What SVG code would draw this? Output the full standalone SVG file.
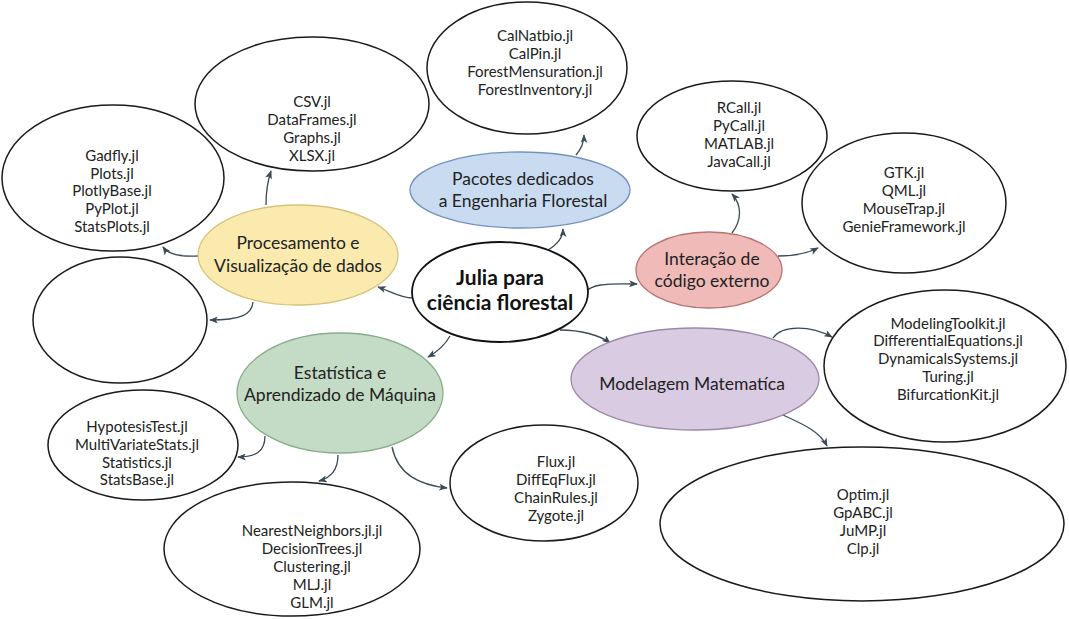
<svg xmlns="http://www.w3.org/2000/svg" width="1069" height="619" viewBox="0 0 1069 619">
<defs>
<marker id="arr" viewBox="0 0 10 8" refX="9" refY="4" markerWidth="9" markerHeight="7" markerUnits="userSpaceOnUse" orient="auto">
<path d="M0,0 L10,4 L0,8 L2.5,4 z" fill="#3b4a57"/>
</marker>
<style>
.w{fill:#ffffff;stroke:#1a1a1a;stroke-width:1.5}
.lst{font-family:Lato,"Open Sans",sans-serif;font-size:15px;fill:#222;text-anchor:middle}
.cat{font-family:Lato,"Open Sans",sans-serif;font-size:17.5px;fill:#222;text-anchor:middle}
.ctr{font-family:Lato,"Open Sans",sans-serif;font-size:21px;font-weight:bold;fill:#111;text-anchor:middle}
.c{fill:none;stroke:#3b4a57;stroke-width:1.3;marker-end:url(#arr)}
</style>
</defs>
<rect width="1069" height="619" fill="#ffffff"/>

<g id="connectors">
<path class="c" d="M548,250 C558,244 563,238 563,229"/>
<path class="c" d="M413,298 C400,298 390,291 378,287"/>
<path class="c" d="M450,336 C445,345 437,352 428,357"/>
<path class="c" d="M585,292 C592,285 602,283 637,284"/>
<path class="c" d="M560,330 C580,330 600,335 610,343"/>
<path class="c" d="M576,155 C582,148 584,142 584,135"/>
<path class="c" d="M266,205 C266,190 268,180 271,171"/>
<path class="c" d="M198,256 C180,257 168,254 163,247"/>
<path class="c" d="M253,302 C252,315 240,320 210,320"/>
<path class="c" d="M732,233 C742,220 742,205 732,194"/>
<path class="c" d="M778,256 C795,256 808,253 818,248"/>
<path class="c" d="M773,338 C782,325 810,325 832,337"/>
<path class="c" d="M783,415 C805,425 820,432 827,446"/>
<path class="c" d="M265,436 C265,452 255,457 238,457"/>
<path class="c" d="M338,455 C338,470 330,478 319,481"/>
<path class="c" d="M392,447 C398,475 420,485 447,488"/>
</g>

<g id="central">
<ellipse cx="500" cy="292" rx="88" ry="50" fill="#ffffff" stroke="#111" stroke-width="1.8"/>
<text class="ctr" x="500" y="285">Julia para</text>
<text class="ctr" x="500" y="310">ciência florestal</text>
</g>

<g id="procesamento">
<ellipse cx="298" cy="255" rx="100" ry="50" fill="#faeaae" stroke="#d6c37a" stroke-width="1.3"/>
<text class="cat" x="298" y="249">Procesamento e</text>
<text class="cat" x="298" y="272">Visualização de dados</text>
</g>

<g id="pacotes">
<ellipse cx="520" cy="190" rx="110" ry="38" fill="#c8dbf0" stroke="#7592bd" stroke-width="1.3"/>
<text class="cat" x="523" y="185">Pacotes dedicados</text>
<text class="cat" x="523" y="207">a Engenharia Florestal</text>
</g>

<g id="interacao">
<ellipse cx="709" cy="270" rx="73" ry="38" fill="#efbab7" stroke="#b87373" stroke-width="1.3"/>
<text class="cat" x="712" y="265">Interação de</text>
<text class="cat" x="712" y="287">código externo</text>
</g>

<g id="modelagem">
<ellipse cx="695" cy="379" rx="124" ry="51" fill="#d9cbe1" stroke="#9c88a8" stroke-width="1.3"/>
<text class="cat" x="692" y="390">Modelagem Matematíca</text>
</g>

<g id="estatistica">
<ellipse cx="340" cy="393" rx="103" ry="60" fill="#c4dcc5" stroke="#88ad8a" stroke-width="1.3"/>
<text class="cat" x="340" y="379">Estatística e</text>
<text class="cat" x="340" y="401">Aprendizado de Máquina</text>
</g>

<g id="csv">
<ellipse class="w" cx="312" cy="104" rx="117" ry="67"/>
<text class="lst" x="312" y="107">CSV.jl</text>
<text class="lst" x="312" y="125">DataFrames.jl</text>
<text class="lst" x="312" y="143">Graphs.jl</text>
<text class="lst" x="312" y="161">XLSX.jl</text>
</g>

<g id="gadfly">
<ellipse class="w" cx="113" cy="178" rx="111" ry="73"/>
<text class="lst" x="112" y="161">Gadfly.jl</text>
<text class="lst" x="112" y="179">Plots.jl</text>
<text class="lst" x="112" y="196">PlotlyBase.jl</text>
<text class="lst" x="112" y="214">PyPlot.jl</text>
<text class="lst" x="112" y="232">StatsPlots.jl</text>
</g>

<g id="empty">
<ellipse class="w" cx="120" cy="320" rx="87" ry="63"/>
</g>

<g id="calnatbio">
<ellipse class="w" cx="527" cy="68" rx="100" ry="66"/>
<text class="lst" x="535" y="41">CalNatbio.jl</text>
<text class="lst" x="535" y="59">CalPin.jl</text>
<text class="lst" x="535" y="77">ForestMensuration.jl</text>
<text class="lst" x="535" y="95">ForestInventory.jl</text>
</g>

<g id="rcall">
<ellipse class="w" cx="732" cy="136" rx="95" ry="55"/>
<text class="lst" x="739" y="113">RCall.jl</text>
<text class="lst" x="739" y="131">PyCall.jl</text>
<text class="lst" x="739" y="149">MATLAB.jl</text>
<text class="lst" x="739" y="167">JavaCall.jl</text>
</g>

<g id="gtk">
<ellipse class="w" cx="904" cy="203" rx="102" ry="70"/>
<text class="lst" x="904" y="178">GTK.jl</text>
<text class="lst" x="904" y="196">QML.jl</text>
<text class="lst" x="904" y="214">MouseTrap.jl</text>
<text class="lst" x="904" y="232">GenieFramework.jl</text>
</g>

<g id="modelingtoolkit">
<ellipse class="w" cx="945" cy="366" rx="121" ry="76"/>
<text class="lst" x="948" y="329">ModelingToolkit.jl</text>
<text class="lst" x="948" y="346">DifferentialEquations.jl</text>
<text class="lst" x="948" y="364">DynamicalsSystems.jl</text>
<text class="lst" x="948" y="382">Turing.jl</text>
<text class="lst" x="948" y="400">BifurcationKit.jl</text>
</g>

<g id="optim">
<ellipse class="w" cx="862" cy="524" rx="202" ry="77"/>
<text class="lst" x="863" y="500">Optim.jl</text>
<text class="lst" x="863" y="518">GpABC.jl</text>
<text class="lst" x="863" y="536">JuMP.jl</text>
<text class="lst" x="863" y="554">Clp.jl</text>
</g>

<g id="hypotesis">
<ellipse class="w" cx="143" cy="445" rx="95" ry="55"/>
<text class="lst" x="137" y="432">HypotesisTest.jl</text>
<text class="lst" x="137" y="450">MultiVariateStats.jl</text>
<text class="lst" x="137" y="468">Statistics.jl</text>
<text class="lst" x="137" y="485">StatsBase.jl</text>
</g>

<g id="nearest">
<ellipse class="w" cx="292" cy="549" rx="128" ry="67"/>
<text class="lst" x="312" y="536">NearestNeighbors.jl.jl</text>
<text class="lst" x="312" y="554">DecisionTrees.jl</text>
<text class="lst" x="312" y="572">Clustering.jl</text>
<text class="lst" x="312" y="590">MLJ.jl</text>
<text class="lst" x="312" y="608">GLM.jl</text>
</g>

<g id="flux">
<ellipse class="w" cx="544" cy="483" rx="94" ry="58"/>
<text class="lst" x="556" y="467">Flux.jl</text>
<text class="lst" x="556" y="485">DiffEqFlux.jl</text>
<text class="lst" x="556" y="503">ChainRules.jl</text>
<text class="lst" x="556" y="521">Zygote.jl</text>
</g>
</svg>
